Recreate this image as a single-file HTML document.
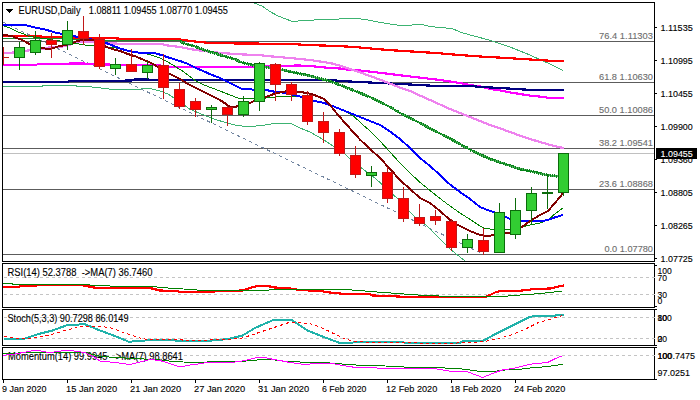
<!DOCTYPE html>
<html><head><meta charset="utf-8"><title>EURUSD Daily</title>
<style>html,body{margin:0;padding:0;background:#fff;}svg{display:block}text{font-family:"Liberation Sans",sans-serif;white-space:pre;}</style>
</head><body>
<svg width="700" height="400" viewBox="0 0 700 400">
<rect x="0" y="0" width="700" height="400" fill="#ffffff"/>
<defs><clipPath id="cm"><rect x="3" y="3" width="651" height="258"/></clipPath></defs>
<g clip-path="url(#cm)">
<g shape-rendering="crispEdges">
<rect x="3" y="41" width="651" height="1" fill="#5c5c5c"/>
<rect x="3" y="82" width="651" height="1" fill="#5c5c5c"/>
<rect x="3" y="115" width="651" height="1" fill="#5c5c5c"/>
<rect x="3" y="148" width="651" height="1" fill="#5c5c5c"/>
<rect x="3" y="189" width="651" height="1" fill="#5c5c5c"/>
<rect x="3" y="254" width="651" height="1" fill="#5c5c5c"/>
<rect x="3" y="153" width="651" height="1" fill="#c0c0c0"/>
<line x1="-21.0" y1="10.60" x2="483" y2="254.1" stroke="#7386a0" stroke-width="1" stroke-dasharray="3.33 3.33"/>
<polyline points="254,3 262,6 270,11.6 278,16 286,19 291,21 298,21 314,20 330,19.6 348,18.4 360,18.8 368,20 380,22.4 390,24 400,25.4 410,25.4 416,24.4 422,24.4 430,26.4 440,27.6 452,28.4 460,32 470,35 480,37.6 490,40.2 500,43.6 510,47 520,51 530,55 540,59.6 550,64 563,70.4" fill="none" stroke="#3cb371" stroke-width="1" />
<polyline points="3,86.6 42,86.6 43,85.4 76,85.4 77,86.6 92,87 104,88.4 112,89.4 138,89.8 142,88.8 152,89 160,91 168,94 174,98 180,103 185,105.5 190,109.3 198.6,112.9 208.6,117 217,120 227,122.9 237,125.4 243,126.2 251.4,126.2 261.4,125.8 268.6,124.3 280,123 292,124 300,128 310,132 324,140 345,154 350,159 361.4,168 366,171.5 373,176.4 382,184.3 393.6,195 398,199 409.3,211 414.3,216.4 425,224.3 430,229 440,239 450,249 460,257 465,261" fill="none" stroke="#3cb371" stroke-width="1" />
<polyline points="3,36 40,36.5 62,37.5 110,38 125,39 180,39.5 195,41.5 210,43 240,43.5 290,43.8 306,45 338,46 354,47 370,48.4 388,50 404,51 420,52 436,53 452,54.4 468,55.6 484,56.8 500,57.6 516,58.6 532,59.6 548,60.6 564,61" fill="none" stroke="#ff0000" stroke-width="2.2" />
<polyline points="3,65 36,65 38,64 68,64 70,63.4 84,63.4 86,64 94,64 104,64.5 160,65.5 170,66.8 254,67 264,66.5 280,66 298,65.5 310,66 320,67 330,68 340,68.5 350,70 360,70.5 370,71.6 380,72.8 400,75.3 420,77.6 440,80 460,83 470,85 480,86.4 490,89 500,90.4 510,92.4 520,94 530,95.6 540,96.6 550,98 564,98" fill="none" stroke="#ff00ff" stroke-width="2.2" />
<polyline points="3,81.6 68,81.6 70,81 124,81 126,80.4 132,80.4 134,79.6 330,79.8 340,81 380,83 420,85 436,86 470,86 482,87 500,88 516,89 532,90 564,90" fill="none" stroke="#000080" stroke-width="2.2" />
<polyline points="3,53.5 8,53 13,52.5 28,50.5 44,49 49,47.5 60,47 68,45.5 74.6,42.5 84.6,41.8 93,41.8 104,43.5 163,44 164,45 180,47 190,49 200,50.6 212,52 224,53.2 240,54.3 260,55.2 270,56.3 290,58 300,59 310,60 320,61.5 330,63 340,65.6 350,69 360,72.4 370,76 380,79.6 390,83.6 400,87.6 410,91 420,95.6 430,100 440,104.5 450,109 460,113 470,117 480,121 490,125 500,128.4 510,132 520,135.6 530,139 540,142 550,145 558,147 564,148" fill="none" stroke="#ee82ee" stroke-width="2.2" />
<polyline points="3,38.4 62,38.9 104,40.4 180,40.6 181,41.5" fill="none" stroke="#1c8c2c" stroke-width="1.2" />
<polyline points="180,41.5 186,44 194,46 204,50 214,53 224,56 234,59 242,62.5 254,65.6 266,67 282,69.6 294,72.4 306,75 318,78 330,81 340,85 350,89 360,93 370,97 380,102 390,107 400,113 410,118 420,123 430,128.5 440,133.5 450,138.5 460,144 470,149.6 480,154.4 490,159 500,162.4 510,165.6 520,169 530,171 540,173.6 547,175 558,176.4 563,177" fill="none" stroke="#52b05f" stroke-width="2" />
<polyline points="180,41.5 186,44 194,46 204,50 214,53 224,56 234,59 242,62.5 254,65.6 266,67 282,69.6 294,72.4 306,75 318,78 330,81 340,85 350,89 360,93 370,97 380,102 390,107 400,113 410,118 420,123 430,128.5 440,133.5 450,138.5 460,144 470,149.6 480,154.4 490,159 500,162.4 510,165.6 520,169 530,171 540,173.6 547,175 558,176.4 563,177" fill="none" stroke="#08851a" stroke-width="3" stroke-dasharray="1.3 0.7"/>
<polyline points="3,25.5 10,28 17,31.5 25,34.5 28,36 40,38 60,41 85,45 93,45.7 100,46 120,48.5 142,53 150,54.6 160,58 168,62 176,67 184,72 190,76.6 196,81 204,85 212,88 220,91 230,95 238,98 250,99 266,98 280,96.4 290,96.4 300,97 314,101 330,105 340,109 348,113 354,116.5 362,124 370,131 380,141 390,152 400,163 410,173 420,182.4 430,190.5 440,198.5 450,206 460,213 470,219.4 480,226 484,228 490,229 494,229.4 506,230 510,229.4 522,227 530,225 540,223 548,220 556,213 563,208" fill="none" stroke="#008000" stroke-width="1" />
<polyline points="3,25 27,25.5 35,27.5 45,29.5 50,31 55,32.5 60,33.5 66,34.5 73,35.8 77.4,37 89,38.6 93,40 105,42.5 113,45.7 120,48.5 127.4,50.7 136,52.4 147.4,53 156,53.5 160,54.6 170,58 180,61 188,64 196,68 204,71.4 212,75 220,78 228,82 236,86 242,89 254,89.6 266,90 274,91.6 282,92.4 298,96 302,97 314,101 322,102.4 330,105 340,109 350,113 360,117 370,121 380,125 388,130 400,139 410,148 420,158 430,166 440,175 450,184.5 460,192 470,199 480,207 490,211 494,212 506,217 510,219 522,220.6 530,221.4 540,221.4 548,220 556,217 563,215" fill="none" stroke="#0000ff" stroke-width="2" />
<polyline points="3,35 12,36 15,37.5 20,39 25,41.5 30,44.5 35,46 40,47.5 45,48.5 51,48.5 55,47.5 60,46 65,45 73,43 78,40.7 89,39.7 94.3,39.7 99,42.5 105.3,46.4 113,49.3 120,51 128,54 136,56.6 144,60 152,63.4 158,67 163,70 170,74 180,79 188,84 196,88 204,92 212,96 220,100 226,104 230,107 238,106.4 243,105 250,103 253,101.6 259,99.5 266,97 274,94 282,92 288,91 298,91.6 310,93.6 318,96.4 324,99 330,105 338,115 346,124 354,133 360,139.6 370,149 380,158 390,169 400,180 410,189 420,198 430,203 440,211 450,220 458,225 470,231 480,235 488,236 494,235 506,233 510,232.6 522,227 530,221 540,215 548,211 554,204 560,197 563,193" fill="none" stroke="#800000" stroke-width="2" />
<rect x="3" y="47" width="1" height="18" fill="#c01818"/>
<rect x="-2" y="57" width="11" height="1" fill="#c01818"/>
<rect x="19" y="42" width="1" height="28" fill="#0b6b0b"/>
<rect x="14" y="47" width="11" height="11" fill="#0b6b0b"/>
<rect x="15" y="48" width="9" height="9" fill="#32cd32"/>
<rect x="35" y="31" width="1" height="24" fill="#0b6b0b"/>
<rect x="30" y="40" width="11" height="13" fill="#0b6b0b"/>
<rect x="31" y="41" width="9" height="11" fill="#32cd32"/>
<rect x="51" y="33" width="1" height="25" fill="#c01818"/>
<rect x="46" y="40" width="11" height="5" fill="#c01818"/>
<rect x="47" y="41" width="9" height="3" fill="#ff0000"/>
<rect x="67" y="21" width="1" height="29" fill="#0b6b0b"/>
<rect x="62" y="30" width="11" height="15" fill="#0b6b0b"/>
<rect x="63" y="31" width="9" height="13" fill="#32cd32"/>
<rect x="83" y="16" width="1" height="29" fill="#c01818"/>
<rect x="78" y="31" width="11" height="8" fill="#c01818"/>
<rect x="79" y="32" width="9" height="6" fill="#ff0000"/>
<rect x="99" y="34" width="1" height="35" fill="#c01818"/>
<rect x="94" y="39" width="11" height="28" fill="#c01818"/>
<rect x="95" y="40" width="9" height="26" fill="#ff0000"/>
<rect x="115" y="58" width="1" height="17" fill="#0b6b0b"/>
<rect x="110" y="64" width="11" height="5" fill="#0b6b0b"/>
<rect x="111" y="65" width="9" height="3" fill="#32cd32"/>
<rect x="131" y="49" width="1" height="23" fill="#c01818"/>
<rect x="126" y="64" width="11" height="8" fill="#c01818"/>
<rect x="127" y="65" width="9" height="6" fill="#ff0000"/>
<rect x="147" y="61" width="1" height="18" fill="#0b6b0b"/>
<rect x="142" y="65" width="11" height="8" fill="#0b6b0b"/>
<rect x="143" y="66" width="9" height="6" fill="#32cd32"/>
<rect x="163" y="54" width="1" height="45" fill="#c01818"/>
<rect x="158" y="65" width="11" height="23" fill="#c01818"/>
<rect x="159" y="66" width="9" height="21" fill="#ff0000"/>
<rect x="179" y="83" width="1" height="26" fill="#c01818"/>
<rect x="174" y="89" width="11" height="18" fill="#c01818"/>
<rect x="175" y="90" width="9" height="16" fill="#ff0000"/>
<rect x="195" y="98" width="1" height="19" fill="#c01818"/>
<rect x="190" y="101" width="11" height="9" fill="#c01818"/>
<rect x="191" y="102" width="9" height="7" fill="#ff0000"/>
<rect x="211" y="105" width="1" height="18" fill="#0b6b0b"/>
<rect x="206" y="107" width="11" height="3" fill="#0b6b0b"/>
<rect x="207" y="108" width="9" height="1" fill="#32cd32"/>
<rect x="227" y="106" width="1" height="20" fill="#c01818"/>
<rect x="222" y="107" width="11" height="8" fill="#c01818"/>
<rect x="223" y="108" width="9" height="6" fill="#ff0000"/>
<rect x="243" y="96" width="1" height="21" fill="#0b6b0b"/>
<rect x="238" y="101" width="11" height="14" fill="#0b6b0b"/>
<rect x="239" y="102" width="9" height="12" fill="#32cd32"/>
<rect x="259" y="62" width="1" height="49" fill="#0b6b0b"/>
<rect x="254" y="63" width="11" height="39" fill="#0b6b0b"/>
<rect x="255" y="64" width="9" height="37" fill="#32cd32"/>
<rect x="275" y="63" width="1" height="38" fill="#c01818"/>
<rect x="270" y="64" width="11" height="21" fill="#c01818"/>
<rect x="271" y="65" width="9" height="19" fill="#ff0000"/>
<rect x="291" y="82" width="1" height="19" fill="#c01818"/>
<rect x="286" y="84" width="11" height="11" fill="#c01818"/>
<rect x="287" y="85" width="9" height="9" fill="#ff0000"/>
<rect x="307" y="91" width="1" height="34" fill="#c01818"/>
<rect x="302" y="95" width="11" height="27" fill="#c01818"/>
<rect x="303" y="96" width="9" height="25" fill="#ff0000"/>
<rect x="323" y="112" width="1" height="31" fill="#c01818"/>
<rect x="318" y="121" width="11" height="12" fill="#c01818"/>
<rect x="319" y="122" width="9" height="10" fill="#ff0000"/>
<rect x="339" y="129" width="1" height="27" fill="#c01818"/>
<rect x="334" y="132" width="11" height="22" fill="#c01818"/>
<rect x="335" y="133" width="9" height="20" fill="#ff0000"/>
<rect x="355" y="146" width="1" height="32" fill="#c01818"/>
<rect x="350" y="155" width="11" height="20" fill="#c01818"/>
<rect x="351" y="156" width="9" height="18" fill="#ff0000"/>
<rect x="371" y="166" width="1" height="21" fill="#0b6b0b"/>
<rect x="366" y="172" width="11" height="4" fill="#0b6b0b"/>
<rect x="367" y="173" width="9" height="2" fill="#32cd32"/>
<rect x="387" y="167" width="1" height="36" fill="#c01818"/>
<rect x="382" y="172" width="11" height="27" fill="#c01818"/>
<rect x="383" y="173" width="9" height="25" fill="#ff0000"/>
<rect x="403" y="187" width="1" height="35" fill="#c01818"/>
<rect x="398" y="198" width="11" height="21" fill="#c01818"/>
<rect x="399" y="199" width="9" height="19" fill="#ff0000"/>
<rect x="419" y="204" width="1" height="22" fill="#c01818"/>
<rect x="414" y="217" width="11" height="7" fill="#c01818"/>
<rect x="415" y="218" width="9" height="5" fill="#ff0000"/>
<rect x="435" y="210" width="1" height="15" fill="#c01818"/>
<rect x="430" y="216" width="11" height="5" fill="#c01818"/>
<rect x="431" y="217" width="9" height="3" fill="#ff0000"/>
<rect x="451" y="219" width="1" height="32" fill="#c01818"/>
<rect x="446" y="221" width="11" height="27" fill="#c01818"/>
<rect x="447" y="222" width="9" height="25" fill="#ff0000"/>
<rect x="467" y="234" width="1" height="19" fill="#0b6b0b"/>
<rect x="462" y="239" width="11" height="9" fill="#0b6b0b"/>
<rect x="463" y="240" width="9" height="7" fill="#32cd32"/>
<rect x="483" y="228" width="1" height="27" fill="#c01818"/>
<rect x="478" y="240" width="11" height="12" fill="#c01818"/>
<rect x="479" y="241" width="9" height="10" fill="#ff0000"/>
<rect x="499" y="203" width="1" height="50" fill="#0b6b0b"/>
<rect x="494" y="212" width="11" height="41" fill="#0b6b0b"/>
<rect x="495" y="213" width="9" height="39" fill="#32cd32"/>
<rect x="515" y="198" width="1" height="41" fill="#0b6b0b"/>
<rect x="510" y="210" width="11" height="25" fill="#0b6b0b"/>
<rect x="511" y="211" width="9" height="23" fill="#32cd32"/>
<rect x="531" y="187" width="1" height="37" fill="#0b6b0b"/>
<rect x="526" y="193" width="11" height="18" fill="#0b6b0b"/>
<rect x="527" y="194" width="9" height="16" fill="#32cd32"/>
<rect x="547" y="174" width="1" height="35" fill="#0b6b0b"/>
<rect x="542" y="192" width="11" height="2" fill="#0b6b0b"/>
<rect x="563" y="153" width="1" height="43" fill="#0b6b0b"/>
<rect x="558" y="153" width="11" height="40" fill="#0b6b0b"/>
<rect x="559" y="154" width="9" height="38" fill="#32cd32"/>
</g></g>
<g shape-rendering="crispEdges" fill="#000">
<rect x="2" y="2" width="653" height="1"/>
<rect x="2" y="261" width="653" height="1"/>
<rect x="2" y="2" width="1" height="260"/>
<rect x="654" y="2" width="1" height="260"/>
<rect x="2" y="263" width="653" height="1"/>
<rect x="2" y="307" width="653" height="1"/>
<rect x="2" y="263" width="1" height="45"/>
<rect x="654" y="263" width="1" height="45"/>
<rect x="2" y="309" width="653" height="1"/>
<rect x="2" y="345" width="653" height="1"/>
<rect x="2" y="309" width="1" height="37"/>
<rect x="654" y="309" width="1" height="37"/>
<rect x="2" y="347" width="653" height="1"/>
<rect x="2" y="379" width="653" height="1"/>
<rect x="2" y="347" width="1" height="33"/>
<rect x="654" y="347" width="1" height="33"/>
<rect x="655" y="27" width="2" height="1"/>
<rect x="655" y="60" width="2" height="1"/>
<rect x="655" y="93" width="2" height="1"/>
<rect x="655" y="126" width="2" height="1"/>
<rect x="655" y="159" width="2" height="1"/>
<rect x="655" y="192" width="2" height="1"/>
<rect x="655" y="225" width="2" height="1"/>
<rect x="655" y="258" width="2" height="1"/>
<rect x="655" y="265" width="2" height="1"/>
<rect x="655" y="306" width="2" height="1"/>
<rect x="655" y="309" width="2" height="1"/>
<rect x="655" y="345" width="2" height="1"/>
<rect x="655" y="347" width="2" height="1"/>
<rect x="655" y="379" width="2" height="1"/>
<rect x="3" y="380" width="1" height="3"/>
<rect x="67" y="380" width="1" height="3"/>
<rect x="131" y="380" width="1" height="3"/>
<rect x="195" y="380" width="1" height="3"/>
<rect x="259" y="380" width="1" height="3"/>
<rect x="323" y="380" width="1" height="3"/>
<rect x="387" y="380" width="1" height="3"/>
<rect x="451" y="380" width="1" height="3"/>
<rect x="515" y="380" width="1" height="3"/>
</g>
<g shape-rendering="crispEdges" stroke="#c4c4c4" stroke-width="1" stroke-dasharray="3 3">
<line x1="4" y1="277.5" x2="657" y2="277.5"/>
<line x1="4" y1="294.5" x2="657" y2="294.5"/>
<line x1="4" y1="317.5" x2="657" y2="317.5"/>
<line x1="4" y1="338.5" x2="657" y2="338.5"/>
<line x1="4" y1="355.5" x2="657" y2="355.5"/>
</g>
<text x="7.5" y="276.3" font-size="10.0" fill="#000" stroke="#000" stroke-width="0.12" text-anchor="start" textLength="145" lengthAdjust="spacingAndGlyphs"  xml:space="preserve">RSI(14) 52.3788  -&gt;MA(7) 36.7460</text>
<text x="7.5" y="321.7" font-size="10.0" fill="#000" stroke="#000" stroke-width="0.12" text-anchor="start" textLength="121" lengthAdjust="spacingAndGlyphs"  xml:space="preserve">Stoch(5,3,3) 90.7298 86.0149</text>
<text x="8" y="359.7" font-size="10.0" fill="#000" stroke="#000" stroke-width="0.12" text-anchor="start" textLength="175" lengthAdjust="spacingAndGlyphs"  xml:space="preserve">Momentum(14) 99.9945  -&gt;MA(7) 98.8641</text>
<g shape-rendering="crispEdges">
<polyline points="3,287 19,287 20,286 36,286 37,285.2 82,285.2 89,286.5 95,287.7 150,288 160,290.5 175,291 180,291.75 205,291.75 242.5,290.5 250,288 257.5,286 267.5,286 275,287.5 290,288.5 300,290 320,291 330,292.5 345,294 370,294.25 372.5,295.5 387.5,296 402.5,296.75 486,296.75 490,295 495,292.5 500,291 515,291 522.5,290.5 532.5,289.25 550,288.5 557.5,286.75 563.75,285.5" fill="none" stroke="#ff0000" stroke-width="2.2" />
<polyline points="3,283.4 12,283.5 13,284.5 85,284.5 95,285.5 110,286 150,286 160,287.5 175,288.5 187.5,289.25 202.5,290.5 242.5,290.5 282.5,289.75 300,289.25 345,289.5 365,291 380,292.25 397.5,293.5 412.5,294.75 427.5,295.5 445,296.25 505,296.25 515,295.3 525,294.75 537.5,293.75 550,292.5 562.5,291" fill="none" stroke="#008000" stroke-width="1" />
<polyline points="4,339.25 22.5,339.25 37.5,334.25 52.5,330.5 67.5,325 85,324.25 100,330.5 115,336 128.75,341.75 140,341 150,340 170,340 180,341 210,341 213.75,340 227.5,339.25 242.5,335.5 255,328 273.75,319.75 291.25,319.75 307.5,330.5 325,337.5 340,343 372.5,341.75 402.5,341.75 405,343 460,343 461,341.75 467.5,340.5 483.75,340.5 495,334.25 505,329.25 515,324.25 530,316.75 535,316 555,316 556,315 563.75,315" fill="none" stroke="#20b2aa" stroke-width="2" />
<polyline points="4,336 12.5,338 25,338.5 37.5,337.5 52.5,334.25 65,330.5 80,326.75 95,326 110,327.5 125,333 140,338 150,340 170,339.5 182.5,340 210,340 227.5,339.75 242.5,338 257.5,333 272.5,328 287.5,323 300,322.5 312.5,324.25 325,329.25 335,334.25 345,339 352.5,341 365,342.25 402.5,342.25 427.5,343.5 457.5,343 470,342.25 483.75,341.75 495,339.25 505,336.75 510,335.5 525,329.25 537.5,323 550,319.25 562.5,315.5" fill="none" stroke="#ff0000" stroke-width="1" stroke-dasharray="3 3"/>
<polyline points="3,353.3 15,353.3 25,352.4 87,352.4 90,353.75 100,356.25 115,357.5 140,358.75 160,360 175,361.75 200,362.5 210,361.75 240,361.75 250,360.5 265,359.5 275,360 285,361.25 300,362 330,363 347.5,364.5 365,365.5 395,366.25 410,367.5 435,367.5 445,368 460,368.75 470,370 482.5,371.75 495,371.25 505,370 517.5,369.5 530,368 542.5,367 555,365.5 562.5,364.25" fill="none" stroke="#008000" stroke-width="1" />
<polyline points="3,355.3 14,354.3 25.7,352 34,350.4 40,350.7 45.7,352 54,352 63,350.7 71.4,350.7 80,351.9 85.7,352.9 93,356.4 100,361 115,362.5 130,364.5 140,362 150,359.5 160,360.5 170,363.75 180,367 190,365 200,363.75 210,362 235,362 245,360.5 255,358 265,357.5 270,358.75 280,360.5 290,362.5 305,364.5 320,363 330,363 340,365 352.5,367 370,367 382.5,368.75 435,368.75 440,369.5 450,371.25 467.5,371.75 482.5,377.5 495,372.5 502.5,370 515,368 530,364.25 547.5,362.5 555,358.75 562.5,355.75" fill="none" stroke="#ff00ff" stroke-width="1" />
</g>
<g shape-rendering="crispEdges" fill="#000"><rect x="6" y="9" width="7" height="1"/><rect x="7" y="10" width="5" height="1"/><rect x="8" y="11" width="3" height="1"/><rect x="9" y="12" width="1" height="1"/></g>
<text x="18.5" y="14" font-size="10.0" fill="#000" stroke="#000" stroke-width="0.12" text-anchor="start" textLength="62" lengthAdjust="spacingAndGlyphs"  xml:space="preserve">EURUSD,Daily</text>
<text x="88.8" y="14" font-size="10.0" fill="#000" stroke="#000" stroke-width="0.12" text-anchor="start" textLength="139" lengthAdjust="spacingAndGlyphs"  xml:space="preserve">1.08811 1.09455 1.08770 1.09455</text>
<text x="653" y="39" font-size="9.7" fill="#6e6e6e" stroke="#6e6e6e" stroke-width="0.12" text-anchor="end" textLength="54" lengthAdjust="spacingAndGlyphs"  xml:space="preserve">76.4 1.11303</text>
<text x="653" y="80" font-size="9.7" fill="#6e6e6e" stroke="#6e6e6e" stroke-width="0.12" text-anchor="end" textLength="54" lengthAdjust="spacingAndGlyphs"  xml:space="preserve">61.8 1.10630</text>
<text x="653" y="113" font-size="9.7" fill="#6e6e6e" stroke="#6e6e6e" stroke-width="0.12" text-anchor="end" textLength="54" lengthAdjust="spacingAndGlyphs"  xml:space="preserve">50.0 1.10086</text>
<text x="653" y="146" font-size="9.7" fill="#6e6e6e" stroke="#6e6e6e" stroke-width="0.12" text-anchor="end" textLength="54" lengthAdjust="spacingAndGlyphs"  xml:space="preserve">38.2 1.09541</text>
<text x="653" y="187" font-size="9.7" fill="#6e6e6e" stroke="#6e6e6e" stroke-width="0.12" text-anchor="end" textLength="54" lengthAdjust="spacingAndGlyphs"  xml:space="preserve">23.6 1.08868</text>
<text x="653" y="252" font-size="9.7" fill="#6e6e6e" stroke="#6e6e6e" stroke-width="0.12" text-anchor="end" textLength="48.6" lengthAdjust="spacingAndGlyphs"  xml:space="preserve">0.0 1.07780</text>
<text x="660.5" y="30.5" font-size="9.7" fill="#000" stroke="#000" stroke-width="0.12" text-anchor="start" textLength="32.3" lengthAdjust="spacingAndGlyphs"  xml:space="preserve">1.11535</text>
<text x="660.5" y="63.5" font-size="9.7" fill="#000" stroke="#000" stroke-width="0.12" text-anchor="start" textLength="32.3" lengthAdjust="spacingAndGlyphs"  xml:space="preserve">1.10995</text>
<text x="660.5" y="97.0" font-size="9.7" fill="#000" stroke="#000" stroke-width="0.12" text-anchor="start" textLength="32.3" lengthAdjust="spacingAndGlyphs"  xml:space="preserve">1.10455</text>
<text x="660.5" y="130.0" font-size="9.7" fill="#000" stroke="#000" stroke-width="0.12" text-anchor="start" textLength="32.3" lengthAdjust="spacingAndGlyphs"  xml:space="preserve">1.09900</text>
<text x="660.5" y="163.0" font-size="9.7" fill="#000" stroke="#000" stroke-width="0.12" text-anchor="start" textLength="32.3" lengthAdjust="spacingAndGlyphs"  xml:space="preserve">1.09360</text>
<text x="660.5" y="196.0" font-size="9.7" fill="#000" stroke="#000" stroke-width="0.12" text-anchor="start" textLength="32.3" lengthAdjust="spacingAndGlyphs"  xml:space="preserve">1.08805</text>
<text x="660.5" y="229.0" font-size="9.7" fill="#000" stroke="#000" stroke-width="0.12" text-anchor="start" textLength="32.3" lengthAdjust="spacingAndGlyphs"  xml:space="preserve">1.08265</text>
<text x="660.5" y="262.0" font-size="9.7" fill="#000" stroke="#000" stroke-width="0.12" text-anchor="start" textLength="32.3" lengthAdjust="spacingAndGlyphs"  xml:space="preserve">1.07725</text>
<rect x="656" y="148" width="41" height="11" fill="#000" shape-rendering="crispEdges"/>
<text x="660.5" y="157" font-size="9.7" fill="#fff" stroke="#fff" stroke-width="0.12" text-anchor="start" textLength="32.3" lengthAdjust="spacingAndGlyphs"  xml:space="preserve">1.09455</text>
<text x="657.5" y="273.6" font-size="9.7" fill="#000" stroke="#000" stroke-width="0.12" text-anchor="start" textLength="14.3" lengthAdjust="spacingAndGlyphs"  xml:space="preserve">100</text>
<text x="657.5" y="281" font-size="9.7" fill="#000" stroke="#000" stroke-width="0.12" text-anchor="start" textLength="9.5" lengthAdjust="spacingAndGlyphs"  xml:space="preserve">70</text>
<text x="657.5" y="298" font-size="9.7" fill="#000" stroke="#000" stroke-width="0.12" text-anchor="start" textLength="9.5" lengthAdjust="spacingAndGlyphs"  xml:space="preserve">30</text>
<text x="657.5" y="304" font-size="9.7" fill="#000" stroke="#000" stroke-width="0.12" text-anchor="start" textLength="4.8" lengthAdjust="spacingAndGlyphs"  xml:space="preserve">0</text>
<text x="657.5" y="320.5" font-size="9.7" fill="#000" stroke="#000" stroke-width="0.12" text-anchor="start" textLength="14.3" lengthAdjust="spacingAndGlyphs"  xml:space="preserve">100</text>
<text x="657.5" y="320.5" font-size="9.7" fill="#000" stroke="#000" stroke-width="0.12" text-anchor="start" textLength="9.5" lengthAdjust="spacingAndGlyphs"  xml:space="preserve">80</text>
<text x="657.5" y="342" font-size="9.7" fill="#000" stroke="#000" stroke-width="0.12" text-anchor="start" textLength="9.5" lengthAdjust="spacingAndGlyphs"  xml:space="preserve">20</text>
<text x="657.5" y="342" font-size="9.7" fill="#000" stroke="#000" stroke-width="0.12" text-anchor="start" textLength="4.8" lengthAdjust="spacingAndGlyphs"  xml:space="preserve">0</text>
<text x="657.5" y="358.5" font-size="9.7" fill="#000" stroke="#000" stroke-width="0.12" text-anchor="start" textLength="37.5" lengthAdjust="spacingAndGlyphs"  xml:space="preserve">100.7475</text>
<text x="657.5" y="358.5" font-size="9.7" fill="#000" stroke="#000" stroke-width="0.12" text-anchor="start" textLength="14.3" lengthAdjust="spacingAndGlyphs"  xml:space="preserve">100</text>
<text x="657.5" y="376" font-size="9.7" fill="#000" stroke="#000" stroke-width="0.12" text-anchor="start" textLength="32.5" lengthAdjust="spacingAndGlyphs"  xml:space="preserve">97.0251</text>
<text x="2" y="392" font-size="9.7" fill="#000" stroke="#000" stroke-width="0.12" text-anchor="start" textLength="44.4" lengthAdjust="spacingAndGlyphs"  xml:space="preserve">9 Jan 2020</text>
<text x="66" y="392" font-size="9.7" fill="#000" stroke="#000" stroke-width="0.12" text-anchor="start" textLength="51.2" lengthAdjust="spacingAndGlyphs"  xml:space="preserve">15 Jan 2020</text>
<text x="130" y="392" font-size="9.7" fill="#000" stroke="#000" stroke-width="0.12" text-anchor="start" textLength="51.2" lengthAdjust="spacingAndGlyphs"  xml:space="preserve">21 Jan 2020</text>
<text x="194" y="392" font-size="9.7" fill="#000" stroke="#000" stroke-width="0.12" text-anchor="start" textLength="51.2" lengthAdjust="spacingAndGlyphs"  xml:space="preserve">27 Jan 2020</text>
<text x="258" y="392" font-size="9.7" fill="#000" stroke="#000" stroke-width="0.12" text-anchor="start" textLength="51.2" lengthAdjust="spacingAndGlyphs"  xml:space="preserve">31 Jan 2020</text>
<text x="322" y="392" font-size="9.7" fill="#000" stroke="#000" stroke-width="0.12" text-anchor="start" textLength="44.4" lengthAdjust="spacingAndGlyphs"  xml:space="preserve">6 Feb 2020</text>
<text x="386" y="392" font-size="9.7" fill="#000" stroke="#000" stroke-width="0.12" text-anchor="start" textLength="51.2" lengthAdjust="spacingAndGlyphs"  xml:space="preserve">12 Feb 2020</text>
<text x="450" y="392" font-size="9.7" fill="#000" stroke="#000" stroke-width="0.12" text-anchor="start" textLength="51.2" lengthAdjust="spacingAndGlyphs"  xml:space="preserve">18 Feb 2020</text>
<text x="514" y="392" font-size="9.7" fill="#000" stroke="#000" stroke-width="0.12" text-anchor="start" textLength="51.2" lengthAdjust="spacingAndGlyphs"  xml:space="preserve">24 Feb 2020</text>
</svg></body></html>
